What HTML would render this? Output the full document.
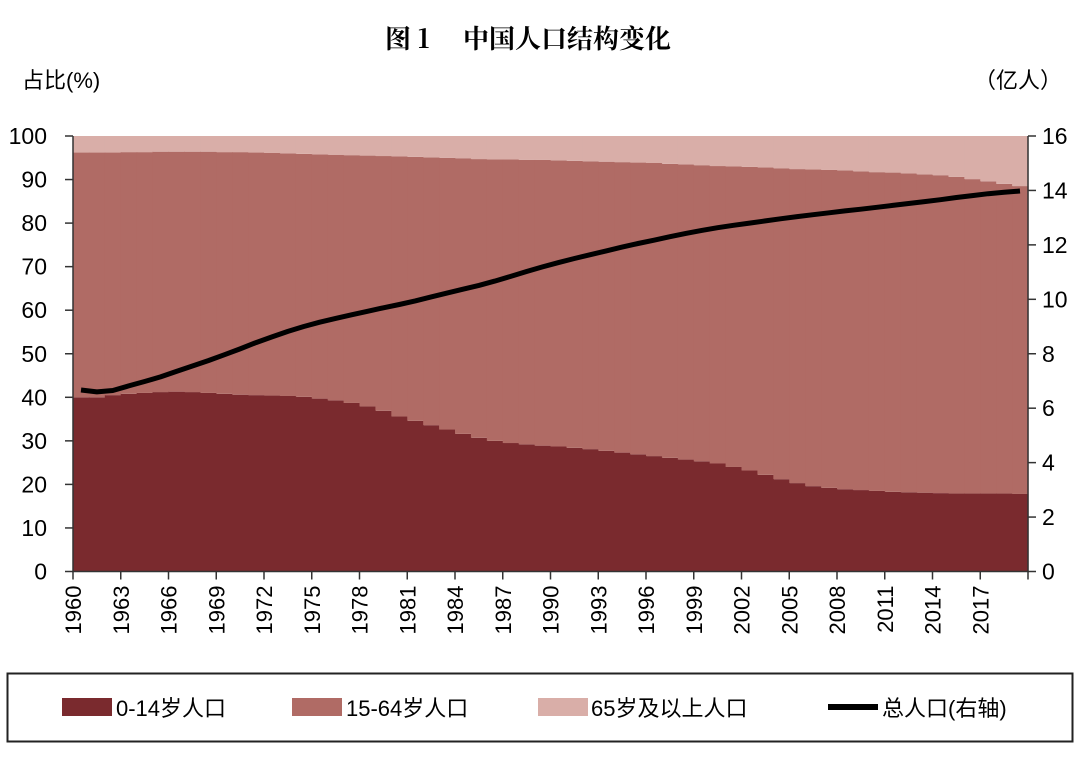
<!DOCTYPE html>
<html><head><meta charset="utf-8"><style>
body{margin:0;background:#fff;width:1080px;height:768px;overflow:hidden;font-family:"Liberation Sans","Noto Sans CJK SC",sans-serif;}
svg text{font-family:"Liberation Sans","Noto Sans CJK SC",sans-serif;}
</style></head><body>
<svg id="c" width="1080" height="768">
<text x="385" y="48" font-size="26" font-weight="bold" style="font-family:'Noto Serif CJK SC',serif">图 1<tspan x="463">中国人口结构变化</tspan></text>
<text x="22" y="88" font-size="22">占比(%)</text>
<text x="1062" y="88" font-size="22" text-anchor="end">（亿人）</text>
<g id="plot"></g>
<rect x="7.5" y="673.5" width="1065" height="68" fill="none" stroke="#222" stroke-width="2"/>
<g><rect x="62" y="698" width="50" height="18" fill="#7a2a2e"/><text x="116" y="716" font-size="22">0-14岁人口</text></g>
<g><rect x="292" y="698" width="50" height="18" fill="#b06b65"/><text x="346" y="716" font-size="22">15-64岁人口</text></g>
<g><rect x="538" y="698" width="50" height="18" fill="#d9aea8"/><text x="591" y="716" font-size="22">65岁及以上人口</text></g>
<g><rect x="828" y="704" width="50" height="6" fill="#000"/><text x="882" y="716" font-size="22">总人口(右轴)</text></g>
</svg>
<script>
const years=[];for(let y=1960;y<=2019;y++)years.push(y);
const young=[40,40,40.5,40.8,41,41.2,41.3,41.2,41,40.8,40.6,40.5,40.4,40.3,40.1,39.7,39.3,38.7,37.9,36.9,35.6,34.6,33.6,32.6,31.6,30.7,30,29.5,29.2,28.9,28.7,28.4,28.1,27.7,27.3,26.9,26.5,26.1,25.7,25.3,24.8,24,23.2,22.2,21.2,20.3,19.6,19.2,18.9,18.7,18.5,18.3,18.2,18.1,18,17.9,17.9,17.9,17.9,17.8];
const elderly=[3.8,3.8,3.8,3.7,3.7,3.6,3.6,3.6,3.6,3.7,3.7,3.8,3.9,4,4.1,4.2,4.3,4.4,4.5,4.6,4.7,4.8,4.9,5,5.1,5.3,5.4,5.4,5.5,5.5,5.6,5.7,5.8,5.9,6,6.1,6.2,6.4,6.5,6.7,6.9,7,7.1,7.2,7.4,7.6,7.7,7.8,7.9,8.1,8.3,8.4,8.6,8.8,9,9.4,9.9,10.4,11,11.5];
const total=[6.67,6.6,6.65,6.82,6.98,7.15,7.35,7.55,7.75,7.96,8.18,8.41,8.62,8.82,9,9.16,9.3,9.43,9.56,9.69,9.81,9.94,10.09,10.23,10.37,10.51,10.67,10.84,11.02,11.19,11.35,11.5,11.64,11.78,11.92,12.05,12.17,12.3,12.42,12.53,12.63,12.72,12.8,12.88,12.96,13.04,13.11,13.18,13.25,13.31,13.38,13.45,13.52,13.59,13.66,13.74,13.81,13.88,13.93,13.98];
const leftTicks=[0,10,20,30,40,50,60,70,80,90,100];
const rightTicks=[0,2,4,6,8,10,12,14,16];
const X0=73,X1=1028,Y0=571.5,Y1=136;
const bw=(X1-X0)/years.length;
const xs=i=>X0+i*bw;
const yl=v=>Y0-(v/100)*(Y0-Y1);
const yr=v=>Y0-(v/16)*(Y0-Y1);
const NS='http://www.w3.org/2000/svg';
const g=document.getElementById('plot');
function mk(t,a){const e=document.createElementNS(NS,t);for(const k in a)e.setAttribute(k,a[k]);g.appendChild(e);return e;}
years.forEach((yr_,i)=>{
 const x=xs(i),w=bw+0.6;
 const a=young[i],c=elderly[i],b=100-a-c;
 let e=mk('rect',{x:x,y:yl(a),width:w,height:Y0-yl(a),fill:'#7a2a2e'});
 
 
 e=mk('rect',{x:x,y:yl(a+b),width:w,height:yl(a)-yl(a+b),fill:'#b06b65'});
 
 
 e=mk('rect',{x:x,y:yl(100),width:w,height:yl(a+b)-yl(100),fill:'#d9aea8'});
 
 
});
let d=total.map((v,i)=>(i?'L':'M')+(xs(i)+bw/2).toFixed(1)+' '+yr(v).toFixed(1)).join(' ');
let ln=mk('path',{d:d,fill:'none',stroke:'#000','stroke-width':5,'stroke-linejoin':'round'});


let ax=mk('path',{d:`M${X0} ${Y1}V${Y0}H${X1}V${Y1}`,fill:'none',stroke:'#333','stroke-width':1.5});


leftTicks.forEach(v=>{
 mk('line',{x1:X0-8,x2:X0,y1:yl(v),y2:yl(v),stroke:'#333','stroke-width':1.5});
 const t=mk('text',{x:X0-26,y:yl(v)+8,'font-size':23,'text-anchor':'end'});t.textContent=v;
 
 
});
rightTicks.forEach(v=>{
 mk('line',{x1:X1,x2:X1+8,y1:yr(v),y2:yr(v),stroke:'#333','stroke-width':1.5});
 const t=mk('text',{x:X1+14,y:yr(v)+8,'font-size':23});t.textContent=v;
 
 
});
years.forEach((y,i)=>{
 if(i%3!==0)return;
 const x=xs(i);
 mk('line',{x1:x,x2:x,y1:Y0,y2:Y0+8,stroke:'#333','stroke-width':1.5});
 const t=mk('text',{x:0,y:0,'font-size':22,'text-anchor':'end',transform:`translate(${x+8},${Y0+14}) rotate(-90)`});t.textContent=y;
 
 
});
mk('line',{x1:X1,x2:X1,y1:Y0,y2:Y0+8,stroke:'#333','stroke-width':1.5});
</script>
</body></html>
